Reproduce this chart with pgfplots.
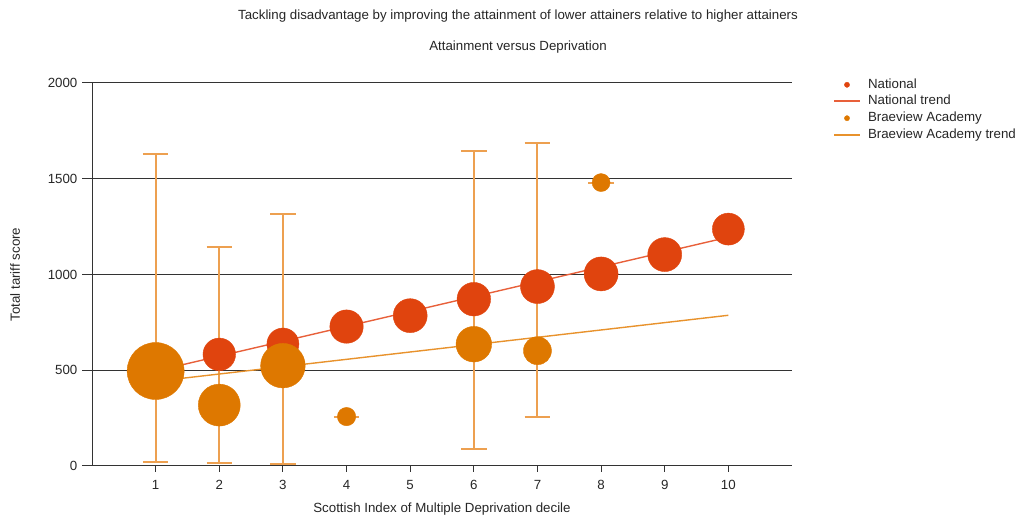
\documentclass[border=0pt]{standalone}
\usepackage{fontspec}
\setmainfont{Liberation Sans}
\usepackage{pgfplots}
\pgfplotsset{compat=1.18}
\definecolor{natcol}{HTML}{E0440E}
\definecolor{brcol}{HTML}{DE7800}
\definecolor{nattrend}{HTML}{E8603A}
\definecolor{brtrend}{HTML}{E8922C}
\definecolor{barcol}{HTML}{EDA050}
\definecolor{axcol}{HTML}{333333}
\pgfplotsset{
  dotlegend/.style={legend image code/.code={\fill[##1] (13pt,0pt) circle (2.6pt);}},
  linelegend/.style={legend image code/.code={\draw[##1] (0pt,0pt) -- (26pt,0pt);}},
}
\begin{document}
\fontsize{13.3}{16}\selectfont
\begin{tikzpicture}
\path[use as bounding box] (0,0) rectangle (1024pt,521pt);
\node[font=\fontsize{13.3}{16}\selectfont, text=black!85] at (518pt,505pt) {Tackling disadvantage by improving the attainment of lower attainers relative to higher attainers};
\node[font=\fontsize{13.3}{16}\selectfont, text=black!85] at (518pt,474pt) {Attainment versus Deprivation};
\begin{axis}[
  at={(92pt,55pt)}, anchor=south west,
  scale only axis, width=700pt, height=383pt,
  xmin=0, xmax=11, ymin=0, ymax=2000,
  xtick={1,...,10}, ytick={0,500,1000,1500,2000},
  axis x line*=bottom, axis y line*=left,
  axis line style={axcol, line width=1pt},
  ymajorgrids, grid style={axcol, line width=1pt},
  tick align=outside, major tick length=10pt,
  xtick style={/pgfplots/major tick length=6pt, axcol, line width=1pt},
  ytick style={axcol, line width=1pt},
  tick label style={font=\fontsize{13.3}{16}\selectfont, text=black!85},
  /pgf/number format/assume math mode=true,
  /pgf/number format/set thousands separator={},
  every axis y label/.style={at={(axis description cs:-0.11,0.5)}, rotate=90, anchor=center},
  every axis x label/.style={at={(axis description cs:0.5,-0.112)}, anchor=center},
  label style={font=\fontsize{13.3}{16}\selectfont, text=black!85},
  xlabel={Scottish Index of Multiple Deprivation decile},
  ylabel={Total tariff score},
  legend style={at={(1.054,1.018)}, anchor=north west, draw=none, fill=none,
    font=\fontsize{13.3}{16}\selectfont, text=black!85,
    nodes={inner sep=0pt, text height=10pt, text depth=3pt},
    row sep=3.7pt, column sep=7pt},
  legend cell align=left,
  unbounded coords=jump,
]
\addlegendimage{natcol, dotlegend}
\addlegendentry{National}
\addlegendimage{nattrend, line width=2pt, linelegend}
\addlegendentry{National trend}
\addlegendimage{brcol, dotlegend}
\addlegendentry{Braeview Academy}
\addlegendimage{brtrend, line width=2pt, linelegend}
\addlegendentry{Braeview Academy trend}

% National bubbles
\addplot[scatter, only marks, mark=*, forget plot,
  scatter/use mapped color={draw=natcol, fill=natcol},
  visualization depends on={\thisrow{r}\as\rad},
  scatter/@pre marker code/.append style={/tikz/mark size=\rad}]
 table {
 x y r
 1 497 16
 2 583 16.3
 3 637 16
 4 728 16.7
 5 785 17
 6 871 16.8
 7 937 17
 8 1003 17
 9 1104 17
 10 1237 16
 };

% Braeview ranges (min to max) with caps
\addplot[barcol, line width=2pt, forget plot, mark=none] table {
 x y
 1 21
 1 1630
 nan nan
 0.8 21
 1.2 21
 nan nan
 0.8 1630
 1.2 1630
 nan nan
 2 14
 2 1146
 nan nan
 1.8 14
 2.2 14
 nan nan
 1.8 1146
 2.2 1146
 nan nan
 3 9
 3 1316
 nan nan
 2.8 9
 3.2 9
 nan nan
 2.8 1316
 3.2 1316
 nan nan
 3.8 258
 4.2 258
 nan nan
 6 89
 6 1647
 nan nan
 5.8 89
 6.2 89
 nan nan
 5.8 1647
 6.2 1647
 nan nan
 7 258
 7 1686
 nan nan
 6.8 258
 7.2 258
 nan nan
 6.8 1686
 7.2 1686
 nan nan
 7.8 1480
 8.2 1480
 };

% Braeview bubbles
\addplot[scatter, only marks, mark=*, forget plot,
  scatter/use mapped color={draw=brcol, fill=brcol},
  visualization depends on={\thisrow{r}\as\rad},
  scatter/@pre marker code/.append style={/tikz/mark size=\rad}]
 table {
 x y r
 1 496 28.5
 2 318 21
 3 524 22.3
 4 258 9.2
 6 636 17.8
 7 602 14
 8 1480 9
 };

% Trends
\addplot[nattrend, line width=1.4pt, forget plot] coordinates {(1,496) (10,1195)};
\addplot[brtrend, line width=1.4pt, forget plot] coordinates {(1,442) (10,787)};
\end{axis}
\end{tikzpicture}
\end{document}
